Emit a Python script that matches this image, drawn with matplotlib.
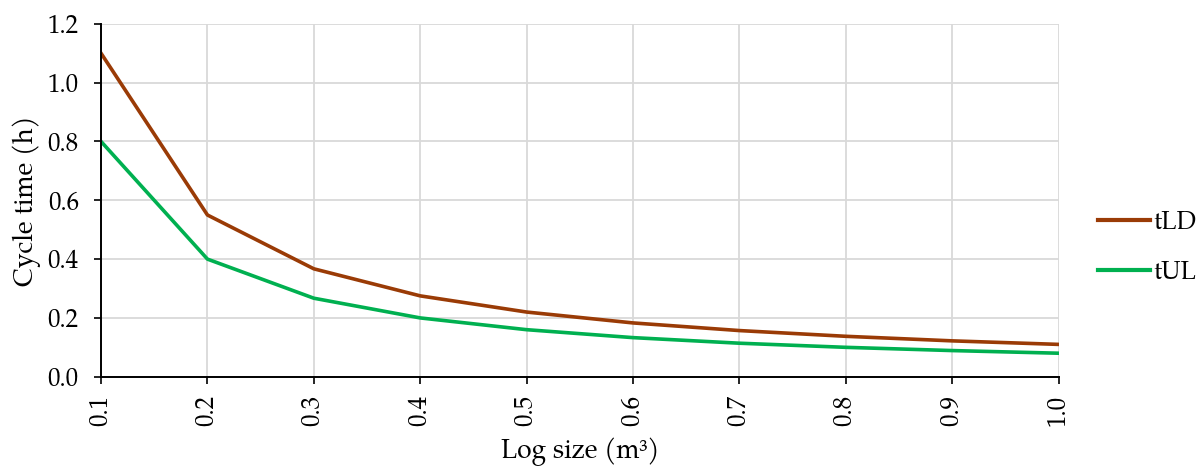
import matplotlib
matplotlib.use("Agg")
import matplotlib.pyplot as plt
from matplotlib.lines import Line2D

plt.rcParams['font.family'] = ['TeX Gyre Pagella', 'Liberation Serif', 'DejaVu Serif']

log_size = [0.1, 0.2, 0.3, 0.4, 0.5, 0.6, 0.7, 0.8, 0.9, 1.0]
t_ld = [1.1, 0.55, 0.367, 0.275, 0.22, 0.183, 0.157, 0.1375, 0.122, 0.11]
t_ul = [0.8, 0.4, 0.267, 0.2, 0.16, 0.133, 0.114, 0.1, 0.089, 0.08]
x_ticks = [0.1, 0.2, 0.3, 0.4, 0.5, 0.6, 0.7, 0.8, 0.9, 1.0]
y_ticks = [0.0, 0.2, 0.4, 0.6, 0.8, 1.0, 1.2]

c_ld = '#9A3B06'
c_ul = '#00B050'

fig = plt.figure(figsize=(12.03, 4.68), dpi=100)
ax = fig.add_axes([0.084, 0.195, 0.796, 0.754])

ax.plot(log_size, t_ld, color=c_ld, lw=2.6, label='tLD', zorder=3)
ax.plot(log_size, t_ul, color=c_ul, lw=2.6, label='tUL', zorder=3)

ax.set_xlim(0.1, 1.0)
ax.set_ylim(0, 1.2)
ax.set_xticks(x_ticks)
ax.set_xticklabels([f'{v:.1f}' for v in x_ticks], rotation=90)
ax.set_yticks(y_ticks)
ax.set_yticklabels([f'{v:.1f}' for v in y_ticks])
ax.tick_params(axis='both', direction='out', length=5, width=1.2, labelsize=18, colors='black')
ax.tick_params(axis='x', pad=8)
ax.tick_params(axis='y', pad=11)

ax.grid(True, color='#D9D9D9', lw=1.3)
ax.set_axisbelow(True)
for s in ['top', 'right']:
    ax.spines[s].set_visible(False)
for s in ['left', 'bottom']:
    ax.spines[s].set_linewidth(1.4)
    ax.spines[s].set_zorder(4)

ax.set_xlabel('Log size (m\u00b3)', fontsize=19, labelpad=8)
ax.set_ylabel('Cycle time (h)', fontsize=19, labelpad=5)

handles = [Line2D([], [], color=c_ld, lw=3), Line2D([], [], color=c_ul, lw=3)]
fig.legend(handles, ['tLD', 'tUL'], loc='center left', bbox_to_anchor=(0.913, 0.47),
           frameon=False, fontsize=18, handlelength=2.05, handletextpad=0.15,
           labelspacing=0.95, borderpad=0, borderaxespad=0)

fig.savefig('out.png', dpi=100)
